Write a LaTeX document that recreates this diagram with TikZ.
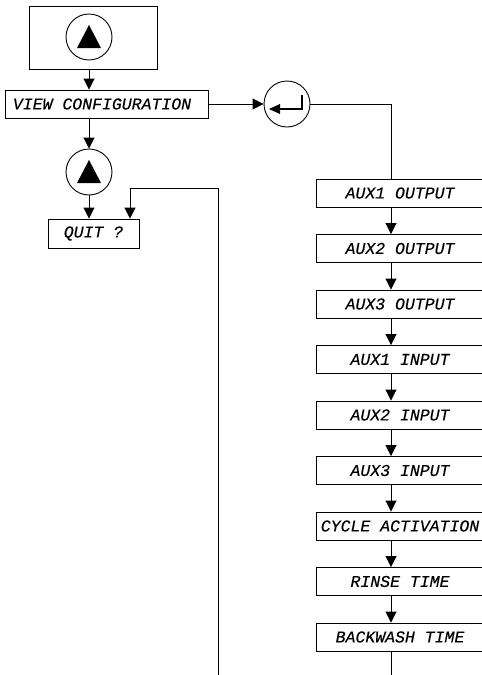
\documentclass[tikz,border=0pt]{standalone}
\usepackage{fontspec}
\newfontfamily\lcd[FakeBold=0.3]{Liberation Mono}
\usetikzlibrary{arrows.meta}
\begin{document}
\begin{tikzpicture}[x=1pt,y=-1pt,
  every node/.style={inner sep=0pt},
  flow/.style={line width=0.9pt},
  arr/.style={flow,-{Triangle[width=11pt,length=11pt]}},
  lcdtext/.style={font=\lcd\itshape\fontsize{16.5}{16.5}\selectfont},
  disp/.style={draw,line width=0.9pt,minimum height=28pt,lcdtext},
  key/.style={draw,circle,line width=0.9pt,minimum size=46pt}]
\useasboundingbox (0,0) rectangle (482,675);
\clip (0,0) rectangle (482,675);

% start key frame with the "up" key
\node[draw,line width=0.9pt,minimum width=128pt,minimum height=63pt] (start) at (93,37.5) {};
\node[key] (up1) at (89,37) {};
\fill[shift={(up1.center)}] (0,-12) -- (-12,11) -- (12,11) -- cycle;

% main menu entry
\node[disp,minimum width=203pt] (view) at (106.5,104) {};
\node[lcdtext] (viewtext) at (102,104) {VIEW CONFIGURATION};

% enter key
\node[key] (enter) at (287,104) {};
\draw[line width=1.8pt,shift={(enter.center)}] (15,-9) -- (15,5) -- (-8,5);
\fill[shift={(enter.center)}] (-18,5) -- (-7,0) -- (-7,10) -- cycle;

% second "up" key
\node[key] (up2) at (89,172) {};
\fill[shift={(up2.center)}] (0,-12) -- (-12,11) -- (12,11) -- cycle;

% quit prompt
\node[disp,minimum width=91pt,minimum height=29pt] (quit) at (93.5,233.5) {QUIT ?};

\draw[arr] (start.south -| up1) -- (view.north -| up1);
\draw[arr] (view.east) -- (enter.west);
\draw[arr] (view.south -| up1) -- (up2.north);
\draw[arr] (up2.south) -- (quit.north -| up2);

% return path into the quit prompt
\coordinate (loopturn) at (130,188);
\coordinate (loopcorner) at (218,188);
\coordinate (loopend) at (218,680);
\draw[arr] (loopend) -- (loopcorner) -- (loopturn) -- (quit.north -| loopturn);

% configuration pages
\foreach \t [count=\i] in {AUX1 OUTPUT,AUX2 OUTPUT,AUX3 OUTPUT,AUX1 INPUT,AUX2 INPUT,AUX3 INPUT,CYCLE ACTIVATION,RINSE TIME,BACKWASH TIME}
  \node[disp,minimum width=168pt] (b\i) at (400,{193+55.5*(\i-1)}) {\t};

\coordinate (ecorner) at (391,104);
\draw[flow] (enter.east) -- (ecorner) -- (b1.north -| ecorner);
\foreach \i [evaluate=\i as \j using int(\i+1)] in {1,...,8}
  \draw[arr] (b\i.south -| ecorner) -- (b\j.north -| ecorner);
\coordinate (tail) at (391,680);
\draw[flow] (b9.south -| ecorner) -- (tail);
\end{tikzpicture}
\end{document}
